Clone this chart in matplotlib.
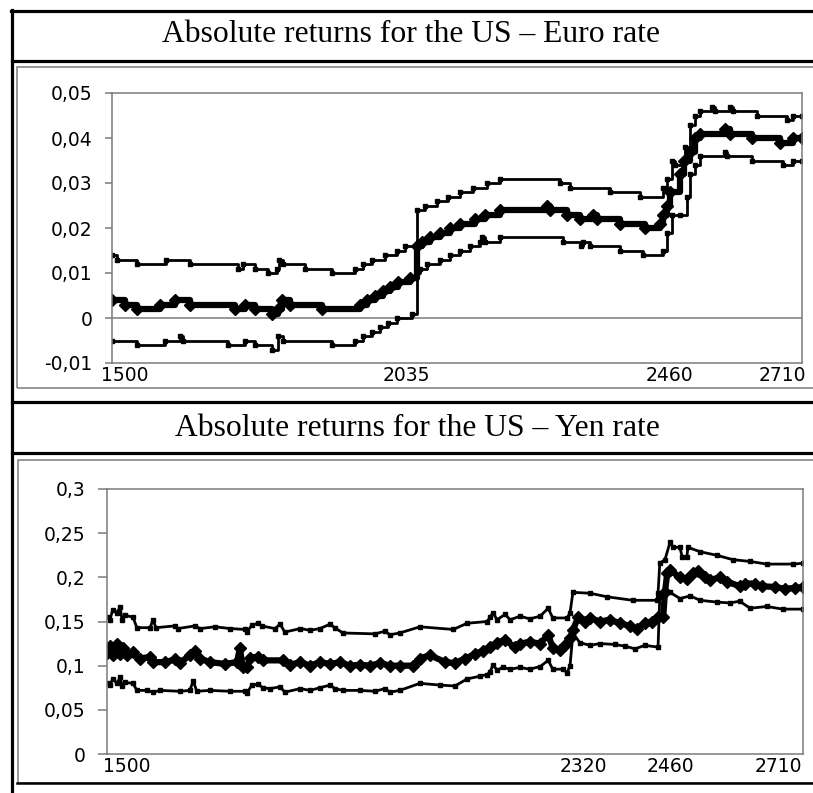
import matplotlib
matplotlib.use('Agg')
import matplotlib.pyplot as plt
from matplotlib.lines import Line2D
from matplotlib.patches import Rectangle

# US - Euro rate (observation number, absolute return)
euro_upper_x = [1500, 1509, 1544, 1595, 1637, 1721, 1730, 1751, 1774, 1789, 1793, 1800, 1839, 1886,
                1926, 1940, 1956, 1979, 2000, 2014, 2035, 2049, 2070, 2089, 2110, 2133, 2157, 2180,
                2286, 2303, 2373, 2426, 2466, 2473, 2482, 2487, 2505, 2514, 2522, 2531, 2552, 2557,
                2584, 2589, 2631, 2684, 2694, 2710]
euro_upper_y = [0.014, 0.013, 0.012, 0.013, 0.012, 0.011, 0.012, 0.011, 0.010, 0.011, 0.013, 0.012,
                0.011, 0.010, 0.011, 0.012, 0.013, 0.014, 0.015, 0.016, 0.024, 0.025, 0.026, 0.027,
                0.028, 0.029, 0.030, 0.031, 0.030, 0.029, 0.028, 0.027, 0.029, 0.031, 0.035, 0.034,
                0.038, 0.043, 0.045, 0.046, 0.047, 0.046, 0.047, 0.046, 0.045, 0.044, 0.045, 0.045]

euro_mid_x = [1500, 1523, 1544, 1584, 1610, 1637, 1716, 1733, 1751, 1781, 1791, 1798, 1812, 1868,
              1935, 1947, 1961, 1975, 1987, 2002, 2023, 2035, 2044, 2058, 2075, 2093, 2110, 2137,
              2154, 2180, 2263, 2268, 2298, 2321, 2343, 2350, 2391, 2435, 2461, 2466, 2473, 2478,
              2496, 2503, 2514, 2522, 2531, 2575, 2584, 2622, 2671, 2694, 2710]
euro_mid_y = [0.004, 0.003, 0.002, 0.003, 0.004, 0.003, 0.002, 0.003, 0.002, 0.001, 0.002, 0.004,
              0.003, 0.002, 0.003, 0.004, 0.005, 0.006, 0.007, 0.008, 0.009, 0.016, 0.017, 0.018,
              0.019, 0.020, 0.021, 0.022, 0.023, 0.024, 0.025, 0.024, 0.023, 0.022, 0.023, 0.022,
              0.021, 0.020, 0.021, 0.023, 0.025, 0.028, 0.032, 0.035, 0.037, 0.040, 0.041, 0.042,
              0.041, 0.040, 0.039, 0.040, 0.040]

euro_lower_x = [1500, 1544, 1593, 1619, 1624, 1703, 1733, 1751, 1781, 1791, 1800, 1886, 1926, 1940,
                1956, 1970, 1984, 2000, 2026, 2035, 2040, 2052, 2075, 2093, 2110, 2128, 2145, 2149,
                2154, 2180, 2291, 2322, 2326, 2338, 2391, 2431, 2466, 2473, 2482, 2496, 2508, 2514,
                2522, 2531, 2575, 2578, 2622, 2677, 2694, 2710]
euro_lower_y = [-0.005, -0.006, -0.005, -0.004, -0.005, -0.006, -0.005, -0.006, -0.007, -0.004,
                -0.005, -0.006, -0.005, -0.004, -0.003, -0.002, -0.001, 0.000, 0.001, 0.010, 0.011,
                0.012, 0.013, 0.014, 0.015, 0.016, 0.017, 0.018, 0.017, 0.018, 0.017, 0.016, 0.017,
                0.016, 0.015, 0.014, 0.015, 0.019, 0.023, 0.023, 0.027, 0.032, 0.034, 0.036, 0.037,
                0.036, 0.035, 0.034, 0.035, 0.035]

euro_ticks = [1523, 2017, 2477, 2675]
euro_labels = ['1500', '2035', '2460', '2710']
euro_yticks = [-0.01, 0, 0.01, 0.02, 0.03, 0.04, 0.05]
euro_ylabels = ['-0,01', '0', '0,01', '0,02', '0,03', '0,04', '0,05']

# US - Yen rate
yen_upper_x = [1500, 1505, 1510, 1517, 1523, 1526, 1531, 1545, 1552, 1575, 1580, 1585, 1618, 1623,
               1653, 1662, 1688, 1714, 1740, 1743, 1752, 1763, 1769, 1792, 1801, 1809, 1836, 1853,
               1870, 1888, 1896, 1910, 1966, 1983, 1992, 2009, 2044, 2102, 2126, 2161, 2166, 2171,
               2178, 2192, 2201, 2218, 2235, 2253, 2267, 2275, 2300, 2305, 2310, 2340, 2369, 2414,
               2456, 2458, 2461, 2470, 2479, 2484, 2496, 2500, 2508, 2510, 2531, 2560, 2588, 2618,
               2647, 2693, 2710]
yen_upper_y = [0.155, 0.152, 0.163, 0.160, 0.166, 0.152, 0.157, 0.155, 0.143, 0.143, 0.152, 0.143,
               0.145, 0.142, 0.145, 0.142, 0.144, 0.142, 0.141, 0.138, 0.146, 0.148, 0.145, 0.142,
               0.147, 0.138, 0.142, 0.140, 0.142, 0.147, 0.143, 0.137, 0.136, 0.139, 0.135, 0.137,
               0.144, 0.141, 0.148, 0.150, 0.155, 0.160, 0.152, 0.158, 0.152, 0.156, 0.153, 0.156,
               0.165, 0.154, 0.154, 0.160, 0.183, 0.182, 0.178, 0.174, 0.174, 0.182, 0.216, 0.220,
               0.240, 0.234, 0.234, 0.223, 0.223, 0.234, 0.229, 0.225, 0.220, 0.218, 0.215, 0.215,
               0.216]

yen_mid_x = [1500, 1505, 1510, 1517, 1523, 1528, 1535, 1545, 1557, 1575, 1580, 1601, 1618, 1627,
             1644, 1653, 1662, 1679, 1705, 1726, 1731, 1736, 1743, 1749, 1763, 1771, 1806, 1818,
             1836, 1853, 1870, 1888, 1905, 1922, 1940, 1957, 1975, 1992, 2009, 2032, 2044, 2061,
             2088, 2105, 2122, 2140, 2154, 2166, 2178, 2192, 2209, 2218, 2235, 2253, 2267, 2275,
             2288, 2296, 2305, 2310, 2319, 2331, 2340, 2357, 2374, 2392, 2409, 2421, 2435, 2447,
             2458, 2467, 2470, 2474, 2479, 2496, 2508, 2519, 2527, 2540, 2548, 2566, 2578, 2600,
             2609, 2627, 2639, 2661, 2679, 2696, 2710]
yen_mid_y = [0.114, 0.122, 0.112, 0.125, 0.113, 0.120, 0.112, 0.115, 0.108, 0.110, 0.104, 0.104,
             0.107, 0.103, 0.112, 0.117, 0.108, 0.104, 0.102, 0.104, 0.120, 0.098, 0.098, 0.109,
             0.110, 0.106, 0.106, 0.101, 0.104, 0.100, 0.104, 0.102, 0.104, 0.100, 0.101, 0.100,
             0.103, 0.100, 0.100, 0.100, 0.108, 0.112, 0.104, 0.103, 0.108, 0.113, 0.117, 0.121,
             0.126, 0.129, 0.121, 0.125, 0.127, 0.125, 0.135, 0.120, 0.118, 0.123, 0.131, 0.140,
             0.155, 0.150, 0.154, 0.150, 0.152, 0.148, 0.145, 0.142, 0.148, 0.150, 0.155, 0.155,
             0.183, 0.205, 0.208, 0.200, 0.198, 0.205, 0.207, 0.200, 0.197, 0.200, 0.195, 0.190,
             0.193, 0.193, 0.190, 0.189, 0.187, 0.188, 0.189]

yen_lower_x = [1500, 1505, 1510, 1517, 1523, 1526, 1531, 1545, 1552, 1570, 1580, 1592, 1627, 1644,
               1650, 1656, 1679, 1714, 1740, 1743, 1752, 1763, 1771, 1783, 1801, 1809, 1836, 1853,
               1870, 1888, 1896, 1910, 1940, 1966, 1983, 1992, 2009, 2044, 2079, 2105, 2126, 2148,
               2161, 2166, 2171, 2178, 2188, 2201, 2218, 2235, 2253, 2267, 2275, 2293, 2300, 2305,
               2310, 2322, 2340, 2357, 2383, 2401, 2418, 2435, 2458, 2461, 2479, 2496, 2514, 2531,
               2560, 2583, 2600, 2618, 2647, 2675, 2710]
yen_lower_y = [0.080, 0.078, 0.085, 0.080, 0.087, 0.077, 0.081, 0.080, 0.072, 0.072, 0.070, 0.072,
               0.071, 0.072, 0.083, 0.071, 0.072, 0.071, 0.071, 0.069, 0.078, 0.079, 0.075, 0.074,
               0.076, 0.070, 0.074, 0.072, 0.075, 0.078, 0.074, 0.072, 0.072, 0.071, 0.074, 0.070,
               0.072, 0.080, 0.078, 0.077, 0.085, 0.088, 0.090, 0.093, 0.101, 0.095, 0.098, 0.096,
               0.098, 0.096, 0.099, 0.106, 0.096, 0.096, 0.092, 0.100, 0.137, 0.126, 0.123, 0.125,
               0.124, 0.122, 0.119, 0.123, 0.121, 0.178, 0.183, 0.176, 0.179, 0.174, 0.172, 0.171,
               0.173, 0.165, 0.167, 0.164, 0.164]

yen_ticks = [1535, 2328, 2479, 2667]
yen_labels = ['1500', '2320', '2460', '2710']
yen_yticks = [0, 0.05, 0.1, 0.15, 0.2, 0.25, 0.3]
yen_ylabels = ['0', '0,05', '0,1', '0,15', '0,2', '0,25', '0,3']

plt.rcParams['font.family'] = 'DejaVu Sans'

W, H = 813, 793
fig = plt.figure(figsize=(W / 100, H / 100), dpi=100)
grey = '#7a7a7a'


def fx(px):
    return px / W


def fy(py):
    return 1 - py / H


def hline(y, x0, x1, lw=2.3, color='black'):
    fig.add_artist(Line2D([fx(x0), fx(x1)], [fy(y), fy(y)], lw=lw, color=color))


def vline(x, y0, y1, lw=2.3, color='black'):
    fig.add_artist(Line2D([fx(x), fx(x)], [fy(y0), fy(y1)], lw=lw, color=color))


# table frame
vline(12, 10, 793)
hline(11, 11, 813)
hline(61, 12, 813)
hline(402, 12, 813)
hline(453, 12, 813)
for (x0, y0, y1) in [(17, 67, 388), (18, 460, 783)]:
    fig.add_artist(Rectangle((fx(x0), fy(y1)), fx(830) - fx(x0), fy(y0) - fy(y1),
                             fill=False, edgecolor=grey, lw=1.1))
hline(783, 17, 813, lw=1.8)

title_font = dict(family='Liberation Serif', fontsize=22.8, color='black',
                  ha='center', va='center')
fig.text(fx(411), fy(34), 'Absolute returns for the US \u2013 Euro rate', **title_font)
fig.text(fx(417), fy(428), 'Absolute returns for the US \u2013 Yen rate', **title_font)


def style_axes(ax, ticks, labels, yticks, ylabels, ylim, ticklen):
    ax.set_facecolor('none')
    ax.set_xlim(1500, 2710)
    ax.set_ylim(*ylim)
    ax.set_xticks(ticks)
    ax.set_xticklabels(labels)
    ax.set_yticks(yticks)
    ax.set_yticklabels(ylabels)
    for s in ax.spines.values():
        s.set_color(grey)
        s.set_linewidth(1.1)
    ax.tick_params(axis='x', length=0, pad=2.5, labelsize=13.5)
    ax.tick_params(axis='y', length=ticklen, width=1.1, color=grey, pad=9, labelsize=13.5)


band = dict(color='black', lw=2.0, marker='s', ms=2.6)
mid = dict(color='black', lw=4.5, marker='D', ms=6)

ax1 = fig.add_axes([fx(112), fy(363), fx(802) - fx(112), fy(93) - fy(363)])
ax1.axhline(0, color=grey, lw=1.1)
ax1.plot(euro_upper_x, euro_upper_y, drawstyle='steps-post', **band)
ax1.plot(euro_lower_x, euro_lower_y, drawstyle='steps-post', **band)
ax1.plot(euro_mid_x, euro_mid_y, drawstyle='steps-post', **mid)
style_axes(ax1, euro_ticks, euro_labels, euro_yticks, euro_ylabels, (-0.01, 0.05), 5)

ax2 = fig.add_axes([fx(107), fy(754), fx(803) - fx(107), fy(489) - fy(754)])
ax2.plot(yen_upper_x, yen_upper_y, **band)
ax2.plot(yen_lower_x, yen_lower_y, **band)
ax2.plot(yen_mid_x, yen_mid_y, **mid)
style_axes(ax2, yen_ticks, yen_labels, yen_yticks, yen_ylabels, (0, 0.3), 6.5)

fig.savefig('out.png', dpi=100)
